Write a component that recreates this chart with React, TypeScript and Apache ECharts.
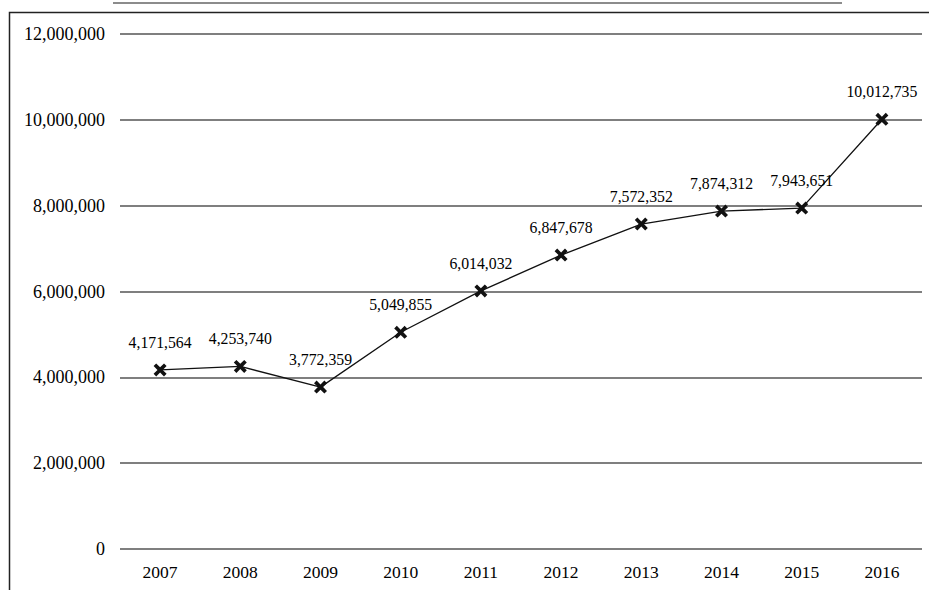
import React, { useEffect, useRef } from "react";
import * as echarts from "echarts";

const years = ["2007", "2008", "2009", "2010", "2011", "2012", "2013", "2014", "2015", "2016"];
const values = [4171564, 4253740, 3772359, 5049855, 6014032, 6847678, 7572352, 7874312, 7943651, 10012735];
const yMax = 12000000;
const yInterval = 2000000;

const fmt = (v: number) => v.toLocaleString("en-US");
const FONT = "'Liberation Serif', 'Times New Roman', serif";
const xMarker = "path://M2,0 L5,3 L8,0 L10,2 L7,5 L10,8 L8,10 L5,7 L2,10 L0,8 L3,5 L0,2 Z";

export default function App() {
  const ref = useRef<HTMLDivElement>(null);
  useEffect(() => {
    if (!ref.current) return;
    const chart = echarts.init(ref.current, undefined, { renderer: "svg" });
    chart.setOption({
      animation: false,
      backgroundColor: "#ffffff",
      grid: { left: 120, right: 7, top: 34, bottom: 41, containLabel: false },
      xAxis: {
        type: "category",
        data: years,
        boundaryGap: true,
        axisLine: { show: false },
        axisTick: { show: false },
        axisLabel: { color: "#000", fontFamily: FONT, fontSize: 17.5, margin: 14 },
      },
      yAxis: {
        type: "value",
        min: 0,
        max: yMax,
        interval: yInterval,
        axisLine: { show: false },
        axisTick: { show: false },
        axisLabel: { color: "#000", fontFamily: FONT, fontSize: 18, margin: 15, formatter: (v: number) => fmt(v) },
        splitLine: { lineStyle: { color: "#555", width: 1.5 } },
      },
      series: [
        {
          type: "line",
          data: values,
          symbol: xMarker,
          symbolSize: 13,
          itemStyle: { color: "#111" },
          lineStyle: { color: "#111", width: 1.3 },
          label: {
            show: true,
            position: "top",
            distance: 13,
            color: "#000",
            fontFamily: FONT,
            fontSize: 15.75,
            formatter: (p: any) => fmt(p.value),
          },
        },
      ],
      graphic: [
        {
          type: "polyline",
          shape: { points: [[9.5, 600], [9.5, 12.5], [940, 12.5]] },
          style: { stroke: "#222", lineWidth: 1.5, fill: null },
          silent: true,
        },
        {
          type: "line",
          shape: { x1: 113, y1: 3, x2: 842, y2: 3 },
          style: { stroke: "#666", lineWidth: 1.5 },
          silent: true,
        },
      ],
    });
    return () => chart.dispose();
  }, []);
  return (
    <div
      ref={ref}
      style={{ position: "fixed", left: 0, top: 0, width: 929, height: 590, background: "#fff" }}
    />
  );
}
